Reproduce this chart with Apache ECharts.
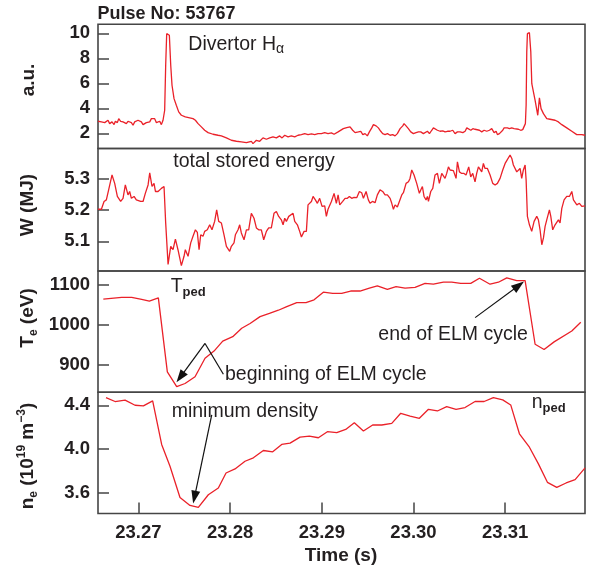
<!DOCTYPE html>
<html><head><meta charset="utf-8">
<script src="https://cdn.jsdelivr.net/npm/echarts@6/dist/echarts.min.js"></script>
<style>html,body{margin:0;padding:0;background:#fff}#c{width:591px;height:569px}</style>
</head><body><div id="c"></div>
<script>
// Times are stored as milliseconds after T0 (seconds)
const T0 = 23.26;
const xTicks = [23.27, 23.28, 23.29, 23.30, 23.31];

// Divertor H-alpha (a.u.)
const haMs = [5.60,5.97,6.15,6.33,6.51,6.69,6.87,7.13,7.35,7.49,7.71,7.86,8.07,8.33,8.51,8.69,8.87,9.05,9.24,9.42,
 9.60,9.78,9.96,10.15,10.33,10.51,10.69,10.87,11.06,11.24,11.42,11.60,11.78,11.97,12.15,12.33,12.51,12.69,12.80,
 12.87,12.98,13.09,13.24,13.38,13.53,13.67,13.89,14.14,14.40,14.69,15.12,15.60,15.96,16.22,16.51,16.87,17.23,17.60,18.14,
 18.69,19.05,19.60,20.14,20.69,21.23,21.78,22.32,22.50,22.87,23.23,23.59,23.96,24.32,24.68,25.05,25.41,25.67,25.96,26.32,
 26.68,27.05,27.41,27.78,28.14,28.50,28.87,29.23,29.59,29.96,30.32,30.68,31.05,31.34,31.78,
 31.99,32.35,32.72,33.08,33.37,33.63,33.99,34.25,34.47,34.72,34.97,35.19,35.45,35.63,35.92,36.17,36.43,36.64,36.90,37.16,
 37.45,37.73,37.99,38.24,38.54,38.83,38.97,39.19,39.44,39.70,39.99,40.28,40.54,40.79,41.08,41.26,41.52,41.74,41.99,42.17,
 42.35,42.61,42.90,43.19,43.44,43.70,43.99,44.28,44.53,44.79,45.08,45.38,45.63,45.81,45.99,46.25,46.47,46.71,46.90,47.19,
 47.44,47.70,47.99,48.28,48.53,48.79,49.01,49.15,49.37,49.52,49.73,49.88,50.02,50.24,50.46,50.71,50.97,51.18,51.44,51.69,
 51.91,52.09,52.20,52.28,52.35,52.42,52.64,52.79,52.90,53.26,53.55,53.73,53.91,54.17,54.53,54.89,55.44,55.80,56.17,56.71,
 57.26,57.80,58.35,58.71];
const haVal = [2.96,2.91,2.99,2.85,2.91,3.04,2.77,2.91,2.69,2.96,2.85,3.17,2.96,2.91,3.04,2.77,2.96,2.96,2.85,2.64,
 2.91,2.85,3.04,3.09,2.91,2.69,2.59,2.85,2.69,2.91,3.17,3.04,3.17,2.85,2.77,2.96,2.69,3.04,3.17,
 3.84,7.44,9.97,10.05,9.84,7.44,5.84,4.77,4.24,3.71,3.44,3.31,3.23,3.17,3.04,2.77,2.51,2.24,2.05,1.92,
 1.84,1.79,1.63,1.44,1.36,1.31,1.25,1.36,1.17,1.44,1.36,1.63,1.52,1.63,1.71,1.63,1.79,1.63,1.84,1.71,
 1.79,1.71,1.84,1.89,1.97,1.89,1.95,1.89,1.97,1.97,2.05,1.97,2.03,1.92,2.11,
 2.24,2.37,2.45,2.51,2.24,2.05,2.11,2.16,1.89,1.97,1.79,2.11,2.43,2.69,2.59,2.43,2.16,1.97,1.89,1.97,
 1.84,1.89,1.79,1.97,2.37,2.59,2.77,2.59,2.37,2.11,1.97,2.05,2.11,2.11,1.97,2.05,2.16,1.97,2.24,2.43,
 2.32,2.24,2.16,2.19,2.11,2.16,2.16,2.24,1.97,2.11,2.11,2.05,2.16,2.43,2.37,2.24,2.37,2.32,2.16,2.24,
 2.11,2.24,2.16,2.24,2.37,2.05,2.16,1.89,1.97,2.05,2.24,2.43,2.37,2.43,2.37,2.43,2.37,2.43,2.32,2.24,
 2.29,2.37,2.77,4.24,8.51,9.97,10.05,8.51,5.97,4.64,3.44,4.83,3.97,3.57,3.17,3.12,3.04,2.91,2.69,2.43,
 2.16,1.89,1.89,1.84];

// Total stored energy W (MJ)
const wMs = [5.60,5.97,6.26,6.51,6.76,7.13,7.42,7.71,8.07,8.33,8.58,8.87,9.05,9.24,9.53,9.78,9.96,10.25,10.51,10.76,
 11.06,11.24,11.49,11.71,11.86,12.15,12.51,12.80,12.98,13.24,13.53,13.78,14.04,14.32,14.69,14.98,15.12,15.42,15.71,15.96,
 16.22,16.43,16.62,16.80,17.05,17.23,17.52,17.78,18.03,18.32,18.54,18.76,19.05,19.34,19.60,19.96,20.14,20.43,20.58,20.87,
 21.05,21.23,21.52,21.78,22.03,22.32,22.61,22.87,23.12,23.41,23.67,23.96,24.21,24.50,24.79,25.05,25.30,25.59,25.78,25.96,
 26.14,26.40,26.61,26.87,27.05,27.34,27.59,27.78,28.07,28.32,28.50,28.87,29.05,29.30,29.52,29.77,30.03,30.32,30.50,30.68,
 30.87,31.05,31.34,31.59,31.78,31.96,
 32.28,32.54,32.79,33.01,33.26,33.52,33.81,34.10,34.35,34.54,34.83,35.08,35.26,35.52,35.81,36.06,36.35,36.64,36.90,37.15,
 37.45,37.63,37.81,37.99,38.24,38.46,38.72,38.90,39.19,39.45,39.62,39.81,40.06,40.35,40.64,40.79,40.97,41.15,41.37,41.52,
 41.63,41.88,42.10,42.35,42.61,42.82,43.08,43.26,43.44,43.62,43.81,43.99,44.17,44.35,44.64,44.79,45.01,45.26,45.51,45.73,
 45.88,46.02,46.24,46.46,46.71,46.89,47.08,47.26,47.44,47.62,47.80,48.06,48.35,48.64,48.90,49.15,49.44,49.73,49.99,50.17,
 50.35,50.53,50.72,50.89,51.08,51.26,51.44,51.62,51.80,51.98,52.17,52.28,52.42,52.64,52.89,53.15,53.44,53.62,53.80,53.99,
 54.17,54.35,54.53,54.82,54.97,55.18,55.44,55.62,55.80,55.98,56.17,56.42,56.71,57.00,57.26,57.44,57.62,57.81,58.09,58.35,
 58.71];
const wVal = [5.203,5.203,5.228,5.233,5.265,5.313,5.286,5.244,5.228,5.238,5.281,5.249,5.260,5.238,5.244,5.233,5.238,5.228,5.228,5.254,
 5.281,5.320,5.276,5.286,5.260,5.260,5.270,5.276,5.159,5.026,5.084,5.073,5.107,5.073,5.022,5.052,5.073,5.052,5.095,5.116,
 5.137,5.129,5.073,5.121,5.116,5.132,5.137,5.153,5.137,5.164,5.201,5.164,5.159,5.121,5.084,5.068,5.084,5.095,5.121,5.137,
 5.153,5.127,5.105,5.137,5.137,5.190,5.174,5.143,5.137,5.137,5.105,5.132,5.143,5.143,5.190,5.196,5.180,5.169,5.153,5.174,
 5.164,5.180,5.174,5.190,5.164,5.153,5.132,5.114,5.132,5.132,5.217,5.228,5.244,5.233,5.222,5.238,5.212,5.214,5.180,5.203,
 5.206,5.228,5.254,5.222,5.249,5.217,
 5.228,5.238,5.238,5.244,5.238,5.241,5.240,5.260,5.256,5.238,5.260,5.233,5.222,5.228,5.224,5.249,5.265,5.260,5.249,5.249,
 5.238,5.222,5.203,5.217,5.210,5.228,5.249,5.256,5.286,5.291,5.302,5.329,5.313,5.286,5.254,5.265,5.276,5.244,5.233,5.244,
 5.228,5.260,5.270,5.313,5.318,5.286,5.318,5.323,5.302,5.318,5.339,5.329,5.323,5.327,5.302,5.355,5.323,5.318,5.318,5.313,
 5.307,5.339,5.307,5.318,5.291,5.318,5.339,5.345,5.323,5.350,5.334,5.334,5.313,5.286,5.281,5.286,5.302,5.329,5.350,5.359,
 5.361,5.377,5.366,5.345,5.339,5.323,5.329,5.334,5.302,5.329,5.345,5.297,5.180,5.153,5.132,5.164,5.180,5.169,5.137,5.089,
 5.111,5.148,5.169,5.201,5.180,5.137,5.153,5.148,5.169,5.159,5.206,5.233,5.244,5.244,5.260,5.233,5.238,5.217,5.222,5.212,
 5.214];

// Pedestal electron temperature Te (eV)
const teMs = [6.18,8.18,9.27,10.36,11.20,12.18,13.16,14.18,15.09,16.18,17.27,18.25,19.20,20.29,21.27,22.18,23.27,24.29,25.27,26.18,
 27.27,28.28,29.16,30.17,31.19,32.17,33.15,34.17,35.19,36.06,37.15,38.10,39.08,40.17,41.26,42.17,43.26,44.17,45.15,46.24,
 47.19,48.35,49.26,50.17,51.26,52.17,53.26,54.24,55.33,57.26,58.24];
const teVal = [1065,1069,1069,1064,1060,1068,883,846,854,871,917,935,960,971,992,1004,1021,1029,1037,1046,
 1056,1056,1063,1082,1079,1079,1085,1085,1092,1098,1089,1096,1092,1094,1104,1102,1107,1107,1104,1104,
 1117,1102,1107,1118,1111,1111,952,939,958,985,1007];

// Pedestal electron density ne (1e19 m^-3)
const neMs = [6.47,7.46,8.55,9.64,10.55,11.56,12.54,13.45,14.54,15.63,16.54,17.63,18.72,19.56,20.54,21.63,22.54,23.63,24.65,25.63,
 26.54,27.63,28.65,29.63,30.61,31.63,32.61,33.55,34.54,35.55,36.54,37.63,38.61,39.63,40.64,41.63,42.61,43.62,44.64,45.62,
 46.71,47.70,48.71,49.73,50.60,51.55,52.64,53.62,54.60,55.62,56.64,57.62,58.71];
const neVal = [4.470,4.434,4.446,4.400,4.394,4.440,4.043,3.844,3.560,3.487,3.469,3.585,3.646,3.783,3.820,3.890,3.921,3.988,3.976,4.043,
 4.055,4.110,4.119,4.104,4.159,4.150,4.180,4.241,4.165,4.220,4.220,4.235,4.327,4.302,4.281,4.363,4.348,4.388,4.363,4.379,
 4.434,4.434,4.470,4.449,4.403,4.140,4.018,3.866,3.698,3.652,3.692,3.722,3.829];

// Y tick values
const haTicks = [2, 4, 6, 8, 10];
const wTicks = [5.1, 5.2, 5.3];
const teTicks = [900, 1000, 1100];
const neTicks = [3.6, 4.0, 4.4];

// Annotation arrows (ms, value)
const begLine = [[19.27, 877], [17.27, 954]];
const begArrow = [[17.27, 954], [14.58, 870]];
const endArrow = [[46.72, 1018.5], [51.48, 1099]];
const minArrow = [[18.0, 4.312], [16.12, 3.562]];

const FONT = '"Liberation Sans", Arial, Helvetica, sans-serif';
const TXT = '#231f20';
const RED = '#ea2129';
const FRAME = '#454545';
const xMin = 23.2656, xMax = 23.3187;

const toT = ms => +(T0 + ms / 1000).toFixed(6);
const pairs = (a, b) => a.map((m, i) => [toT(m), b[i]]);
const cpt = p => ({coord: [toT(p[0]), p[1]]});

const gridPos = [
  {top: 24.3, height: 124.2},
  {top: 148.5, height: 122.5},
  {top: 271, height: 121.3},
  {top: 392.3, height: 121.2}
];
const yRange = [[0.78, 10.72], [5.0047, 5.398], [832, 1135], [3.414, 4.518]];
const yTicks = [haTicks, wTicks, teTicks, neTicks];
const yFmt = [v => String(v), v => v.toFixed(1), v => String(v), v => v.toFixed(1)];

const grids = gridPos.map(g => ({left: 98, right: 6, top: g.top, height: g.height, show: true,
  borderColor: FRAME, borderWidth: 1.6, backgroundColor: 'transparent'}));

const xAxes = gridPos.map((g, i) => ({
  type: 'value', gridIndex: i, min: xMin, max: xMax,
  axisLine: {show: false}, splitLine: {show: false},
  axisTick: {show: i === 3, inside: true, length: 11, customValues: xTicks, lineStyle: {color: FRAME, width: 1.5}},
  axisLabel: {show: i === 3, customValues: xTicks, formatter: v => v.toFixed(2), margin: 10,
    color: TXT, fontSize: 18.5, fontWeight: 'bold', fontFamily: FONT}
}));

const yAxes = gridPos.map((g, i) => ({
  type: 'value', gridIndex: i, min: yRange[i][0], max: yRange[i][1],
  axisLine: {show: false}, splitLine: {show: false},
  axisTick: {show: true, inside: true, length: 11, customValues: yTicks[i], lineStyle: {color: FRAME, width: 1.5}},
  axisLabel: {show: true, customValues: yTicks[i], formatter: yFmt[i], margin: 8,
    color: TXT, fontSize: 18.5, fontWeight: 'bold', fontFamily: FONT}
}));

const arrowStyle = {color: '#111', width: 1.2, type: 'solid'};
function mlSeg(p, q, arrow) {
  return [Object.assign(cpt(p), {symbol: 'none'}),
          Object.assign(cpt(q), arrow ? {symbol: 'triangle', symbolSize: [9, 13]} : {symbol: 'none'})];
}

const mk = (i, ms, val, ml) => ({
  type: 'line', xAxisIndex: i, yAxisIndex: i, data: pairs(ms, val),
  showSymbol: false, symbol: 'none', silent: true,
  lineStyle: {color: RED, width: 1.3}, itemStyle: {color: RED},
  markLine: ml ? {silent: true, symbol: ['none', 'none'], label: {show: false}, emphasis: {disabled: true},
    lineStyle: arrowStyle, itemStyle: {color: '#111'}, data: ml} : undefined
});

const series = [
  mk(0, haMs, haVal),
  mk(1, wMs, wVal),
  mk(2, teMs, teVal, [mlSeg(begLine[0], begLine[1], false), mlSeg(begArrow[0], begArrow[1], true), mlSeg(endArrow[0], endArrow[1], true)]),
  mk(3, neMs, neVal, [mlSeg(minArrow[0], minArrow[1], true)])
];

function txt(x, y, text, st, rot) {
  return {type: 'text', x: x, y: y, rotation: rot || 0, silent: true, z: 100,
    style: Object.assign({text: text, fill: TXT, fontFamily: FONT, fontSize: 19.5, fontWeight: 'normal',
      align: 'left', verticalAlign: 'middle', textAlign: 'left', textVerticalAlign: 'middle'}, st)};
}
const R = Math.PI / 2;
const bigB = {fontSize: 19, fontWeight: 'bold', fontFamily: FONT, fill: TXT, lineHeight: 24};
const subB = {fontSize: 12, fontWeight: 'bold', fontFamily: FONT, fill: TXT, lineHeight: 12, verticalAlign: 'bottom'};
const supB = {fontSize: 12, fontWeight: 'bold', fontFamily: FONT, fill: TXT, lineHeight: 12, verticalAlign: 'top'};
const bigN = {fontSize: 19.5, fontWeight: 'normal', fontFamily: FONT, fill: TXT, lineHeight: 24};
const subN = {fontSize: 13, fontWeight: 'bold', fontFamily: FONT, fill: TXT, lineHeight: 13, verticalAlign: 'bottom'};
const ctr = {align: 'center', textAlign: 'center'};

const graphics = [
  txt(97.5, 13.7, 'Pulse No: 53767', {fontWeight: 'bold', fontSize: 18}),
  txt(188.3, 44.5, '{m|Divertor H}{s|α}', {rich: {m: bigN, s: Object.assign({}, subN, {fontWeight: 'normal', fontSize: 14})}}),
  txt(173.3, 162, 'total stored energy'),
  txt(170.7, 287, '{m|T}{s|ped}', {rich: {m: bigN, s: subN}}),
  txt(225, 374.7, 'beginning of ELM cycle'),
  txt(378.3, 335, 'end of ELM cycle'),
  txt(171.7, 411.7, 'minimum density'),
  txt(531.7, 403, '{m|n}{s|ped}', {rich: {m: bigN, s: subN}}),
  txt(341, 556, 'Time (s)', Object.assign({fontWeight: 'bold', fontSize: 19}, ctr)),
  txt(29, 80, 'a.u.', Object.assign({fontWeight: 'bold', fontSize: 19}, ctr), R),
  txt(28, 205, 'W (MJ)', Object.assign({fontWeight: 'bold', fontSize: 19}, ctr), R),
  txt(28, 318, '{m|T}{s|e}{m| (eV)}', Object.assign({rich: {m: bigB, s: subB}}, ctr), R),
  txt(28, 456, '{m|n}{s|e}{m| (10}{p|19}{m| m}{p|\u22123}{m|)}', Object.assign({rich: {m: bigB, s: subB, p: supB}}, ctr), R)
];

const chart = echarts.init(document.getElementById('c'), null, {renderer: 'canvas'});
chart.setOption({
  animation: false,
  backgroundColor: '#fff',
  grid: grids, xAxis: xAxes, yAxis: yAxes, series: series,
  graphic: graphics
});
</script></body></html>
